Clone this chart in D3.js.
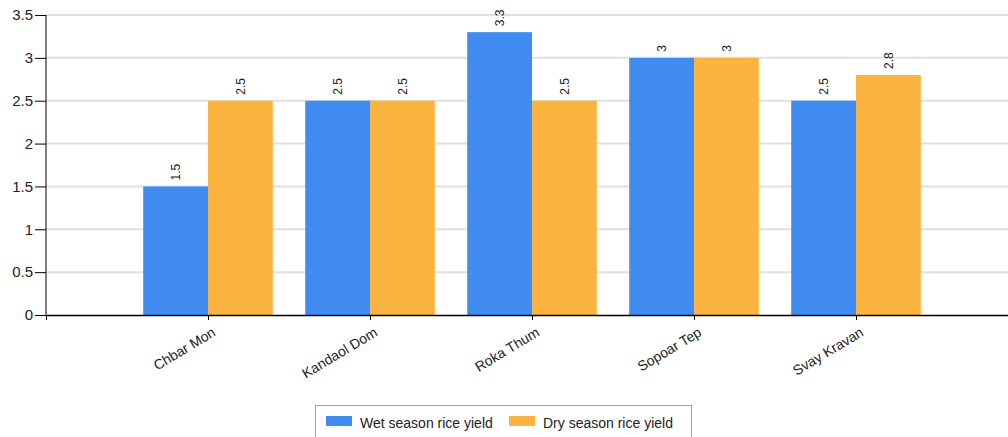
<!DOCTYPE html>
<html>
<head>
<meta charset="utf-8">
<script src="https://cdn.jsdelivr.net/npm/d3@7"></script>
<style>
  html, body { margin: 0; padding: 0; background: #fff; }
  svg { display: block; font-family: "Liberation Sans", Arial, sans-serif; }
</style>
</head>
<body>
<svg id="chart" width="1008" height="437"></svg>
<script>
// Rice yield by district (t/ha)
const districts = ["Chbar Mon", "Kandaol Dom", "Roka Thum", "Sopoar Tep", "Svay Kravan"];
const wetSeason = [1.5, 2.5, 3.3, 3, 2.5];
const drySeason = [2.5, 2.5, 2.5, 3, 2.8];
const seriesNames = ["Wet season rice yield", "Dry season rice yield"];
const seriesColors = ["#418CF0", "#FCB441"];
const yTicks = [0, 0.5, 1, 1.5, 2, 2.5, 3, 3.5];

const series = [wetSeason, drySeason];
const svg = d3.select("#chart");

// Category axis uses numeric positions 1..n, with slot 0 left empty
const x = d3.scaleLinear().domain([0, 6]).range([46, 1018]);
const y = d3.scaleLinear().domain([0, 3.5]).range([315, 15]);
const slot = x(1) - x(0);
const barW = slot * 0.8 / series.length;

// Horizontal gridlines
svg.append("g")
  .selectAll("line")
  .data(yTicks.filter(d => d > 0))
  .join("line")
  .attr("x1", x(0)).attr("x2", 1008)
  .attr("y1", d => y(d)).attr("y2", d => y(d))
  .attr("stroke", "#e0e0e0")
  .attr("stroke-width", 2);

// Bars
series.forEach((vals, si) => {
  svg.append("g")
    .selectAll("rect")
    .data(vals)
    .join("rect")
    .attr("x", (d, i) => x(i + 1) - barW * series.length / 2 + si * barW)
    .attr("y", d => y(d))
    .attr("width", barW)
    .attr("height", d => y(0) - y(d))
    .attr("fill", seriesColors[si]);

  // Vertical value labels above each bar
  svg.append("g")
    .selectAll("text")
    .data(vals)
    .join("text")
    .attr("transform", (d, i) => {
      const cx = x(i + 1) - barW * series.length / 2 + si * barW + barW / 2;
      return `translate(${cx},${y(d) - 6}) rotate(-90)`;
    })
    .attr("dy", "0.35em")
    .attr("text-anchor", "start")
    .attr("font-size", 12)
    .attr("fill", "#222")
    .text(d => d);
});

// Y axis
const yAxis = svg.append("g")
  .attr("transform", `translate(${x(0)},0)`)
  .call(d3.axisLeft(y).tickValues(yTicks).tickSize(11).tickPadding(2).tickFormat(d3.format("")));
yAxis.select(".domain").attr("stroke", "#000").attr("d", `M0,${y(3.5)}V${y(0)}`);
yAxis.selectAll(".tick line").attr("stroke", "#000");
yAxis.selectAll(".tick text").attr("font-size", 15).attr("fill", "#222").attr("font-family", "Liberation Sans, Arial, sans-serif");

// X axis
const xAxis = svg.append("g")
  .attr("transform", `translate(0,${y(0)})`)
  .call(d3.axisBottom(x).tickValues([0, 1, 2, 3, 4, 5]).tickSize(5).tickSizeOuter(0)
    .tickFormat(d => d === 0 ? "" : districts[d - 1]));
xAxis.select(".domain").attr("stroke", "#000").attr("stroke-width", 1.5);
xAxis.selectAll(".tick line").attr("stroke", "#000");
xAxis.selectAll(".tick text")
  .attr("font-size", 14)
  .attr("fill", "#222")
  .attr("font-family", "Liberation Sans, Arial, sans-serif")
  .attr("text-anchor", "end")
  .attr("dy", null)
  .attr("y", null)
  .attr("transform", "translate(8,20) rotate(-31)");

// Legend
const legend = svg.append("g");
legend.append("rect")
  .attr("x", 315.5).attr("y", 405.5)
  .attr("width", 376).attr("height", 45)
  .attr("fill", "#fff")
  .attr("stroke", "#a0a0a0");
const legendX = [326, 509];
seriesNames.forEach((name, i) => {
  legend.append("rect")
    .attr("x", legendX[i]).attr("y", 416)
    .attr("width", 26).attr("height", 10)
    .attr("fill", seriesColors[i]);
  legend.append("text")
    .attr("x", legendX[i] + 34).attr("y", 428)
    .attr("font-size", 14)
    .attr("fill", "#222")
    .text(name);
});
</script>
</body>
</html>
